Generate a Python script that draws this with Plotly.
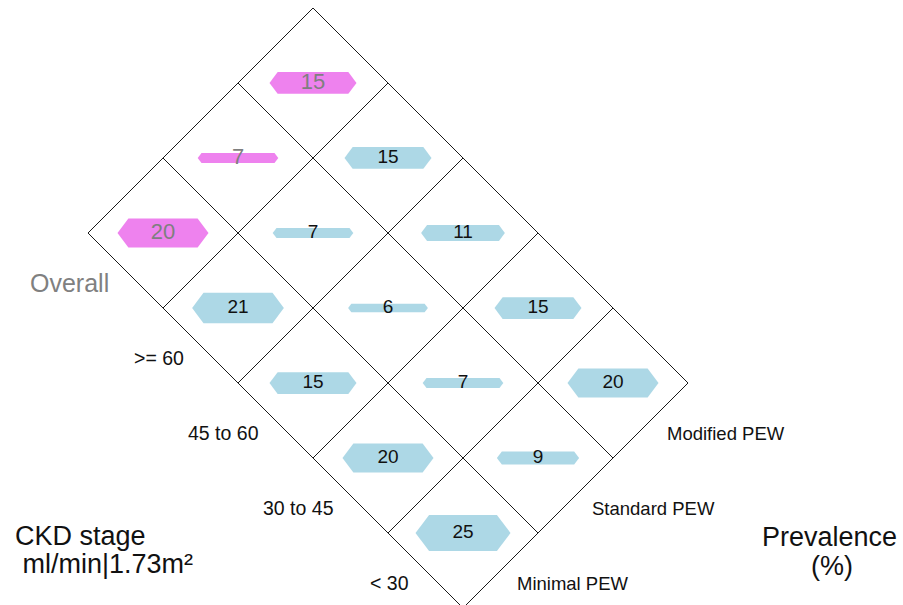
import plotly.graph_objects as go

# CKD stage rows (top-left to bottom-right) and PEW definitions (columns)
stages = ["Overall", ">= 60", "45 to 60", "30 to 45", "< 30"]
definitions = ["Minimal PEW", "Standard PEW", "Modified PEW"]

# Prevalence (%) per stage for each PEW definition
minimal_pew = [20, 21, 15, 20, 25]
standard_pew = [7, 7, 6, 7, 9]
modified_pew = [15, 15, 11, 15, 20]

values = [minimal_pew, standard_pew, modified_pew]

W, H = 903, 605
UNIT = 75.0                    # pixels per grid unit
X0, Y0 = 88.0, 233.0           # pixel position of the grid's left corner

PINK = "#EE82EE"
BLUE = "#ADD8E6"
FONT = "Liberation Sans, Arial, sans-serif"


def to_xy(u, v):
    """Rotate (stage, definition) grid coords into plot coords."""
    return u + v, v - u


fig = go.Figure()

# Diamond grid lines
n_rows, n_cols = len(stages), len(definitions)
for u in range(n_rows + 1):
    xa, ya = to_xy(u, 0)
    xb, yb = to_xy(u, n_cols)
    fig.add_trace(go.Scatter(x=[xa, xb], y=[ya, yb], mode="lines",
                             line=dict(color="#1a1a1a", width=1),
                             hoverinfo="skip", showlegend=False))
for v in range(n_cols + 1):
    xa, ya = to_xy(0, v)
    xb, yb = to_xy(n_rows, v)
    fig.add_trace(go.Scatter(x=[xa, xb], y=[ya, yb], mode="lines",
                             line=dict(color="#1a1a1a", width=1),
                             hoverinfo="skip", showlegend=False))

# Hexagon badges sized by prevalence
BASE_HALF = 37.5 / UNIT        # half-width of a zero-size badge
WIDTH_PER_PCT = 0.4 / UNIT     # extra half-width per percentage point
HEIGHT_PER_PCT = 1.45 / UNIT   # badge thickness per percentage point
TIP_RATIO = 0.75               # tip length relative to half-height

for c, series in enumerate(values):
    for r, val in enumerate(series):
        cx, cy = to_xy(r + 0.5, c + 0.5)
        h = val * HEIGHT_PER_PCT / 2
        tip = h * TIP_RATIO
        half = BASE_HALF + WIDTH_PER_PCT * val
        flat = half - tip
        xs = [cx - flat, cx + flat, cx + half, cx + flat, cx - flat, cx - half, cx - flat]
        ys = [cy + h, cy + h, cy, cy - h, cy - h, cy, cy + h]
        overall = (r == 0)
        fig.add_trace(go.Scatter(x=xs, y=ys, mode="lines", fill="toself",
                                 fillcolor=PINK if overall else BLUE,
                                 line=dict(width=0), hoverinfo="skip",
                                 showlegend=False))
        fig.add_trace(go.Scatter(x=[cx], y=[cy], mode="text", text=[str(val)],
                                 textposition="middle center",
                                 textfont=dict(family=FONT,
                                               size=22 if overall else 19,
                                               color="#7f7f7f" if overall else "#111"),
                                 hoverinfo="skip", showlegend=False))

# Stage labels along the lower-left edge
for r, name in enumerate(stages):
    ex, ey = to_xy(r + 0.5, 0)
    overall = (r == 0)
    fig.add_annotation(x=ex - 0.19, y=ey - 0.17, text=name, showarrow=False,
                       xanchor="right", yanchor="middle",
                       font=dict(family=FONT, size=25 if overall else 19.5,
                                 color="#808080" if overall else "#111"))

# Definition labels along the lower-right edge
for c, name in enumerate(definitions):
    ex, ey = to_xy(n_rows, c + 0.5)
    fig.add_annotation(x=ex + 0.19, y=ey - 0.17, text=name, showarrow=False,
                       xanchor="left", yanchor="middle",
                       font=dict(family=FONT, size=18.5, color="#111"))

# Axis titles
title_font = dict(family=FONT, size=27, color="#111")
fig.add_annotation(xref="paper", yref="paper", x=13 / W, y=1 - 536 / H,
                   text="CKD stage", showarrow=False,
                   xanchor="left", yanchor="middle", font=title_font)
fig.add_annotation(xref="paper", yref="paper", x=13 / W, y=1 - 564 / H,
                   text=" ml/min|1.73m²", showarrow=False,
                   xanchor="left", yanchor="middle", font=title_font)
fig.add_annotation(xref="paper", yref="paper", x=829 / W, y=1 - 537 / H,
                   text="Prevalence", showarrow=False,
                   xanchor="center", yanchor="middle", font=title_font)
fig.add_annotation(xref="paper", yref="paper", x=832 / W, y=1 - 566 / H,
                   text="(%)", showarrow=False,
                   xanchor="center", yanchor="middle", font=title_font)

fig.update_layout(
    width=W, height=H,
    margin=dict(l=0, r=0, t=0, b=0),
    plot_bgcolor="white", paper_bgcolor="white",
    xaxis=dict(range=[-X0 / UNIT, (W - X0) / UNIT], visible=False, fixedrange=True),
    yaxis=dict(range=[(Y0 - H) / UNIT, Y0 / UNIT], visible=False, fixedrange=True),
    showlegend=False,
)

fig.write_html("out.html")
